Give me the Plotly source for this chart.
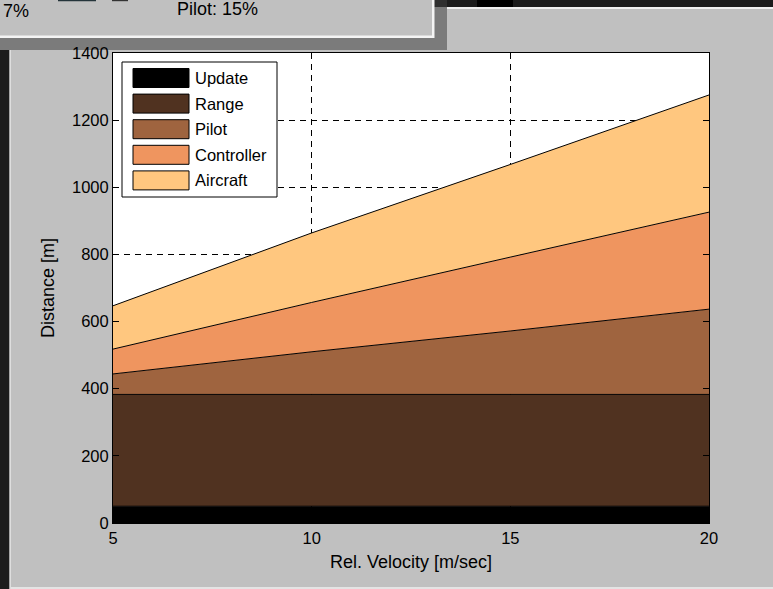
import plotly.graph_objects as go

# Stopping-distance budget versus relative velocity (stacked contributions)
velocity = [5, 10, 15, 20]
update_m = [50, 50, 50, 50]
range_m = [333, 333, 333, 333]
pilot_m = [61, 127, 189, 254]
controller_m = [74, 147, 220, 289]
aircraft_m = [129, 207, 276, 349]

series_names = ["Update", "Range", "Pilot", "Controller", "Aircraft"]
series_values = [update_m, range_m, pilot_m, controller_m, aircraft_m]
# copper colormap, 5 levels
series_colors = ["#000000", "#503220", "#9f643f", "#ef955f", "#ffc77f"]

x_ticks = [5, 10, 15, 20]
y_ticks = [0, 200, 400, 600, 800, 1000, 1200, 1400]

status_left = "7%"
status_pilot = "Pilot: 15%"

FONT = "Liberation Sans, Arial, sans-serif"
W, H = 773, 589
PL, PR, PT, PB = 113, 709, 53, 523


def fx(px):
    return (px - PL) / (PR - PL)


def fy(py):
    return (PB - py) / (PB - PT)


def rect(x0, y0, x1, y1, fill, line_color=None, line_width=0, layer="above"):
    return dict(
        type="rect", xref="paper", yref="paper",
        x0=fx(x0), x1=fx(x1), y0=fy(y1), y1=fy(y0),
        fillcolor=fill,
        line=dict(color=line_color or fill, width=line_width),
        layer=layer,
    )


fig = go.Figure()
for name, vals, col in zip(series_names, series_values, series_colors):
    fig.add_trace(go.Scatter(
        x=velocity, y=vals, name=name, mode="lines",
        stackgroup="one", fillcolor=col,
        line=dict(color="black", width=1),
        showlegend=False,
    ))

axis_common = dict(
    ticks="inside", ticklen=6, tickwidth=1, tickcolor="black",
    showline=True, linecolor="black", linewidth=1, mirror="ticks",
    showgrid=True, gridcolor="black", gridwidth=1, griddash="6px,5px",
    zeroline=False, automargin=False,
    tickfont=dict(family=FONT, size=16.5, color="black"),
)

fig.update_xaxes(range=[5, 20], tickvals=x_ticks, **axis_common)
fig.update_yaxes(range=[0, 1400], tickvals=y_ticks, **axis_common)

shapes = [
    # window frame around the figure
    rect(447, 0, 773, 7, "#1c1c1c"),
    rect(477, 0, 513, 7, "#000000"),
    rect(433, 0, 447, 7, "#4a4a4a"),
    rect(447, 7, 773, 9, "#f0f0f0"),
    rect(0, 50, 9.5, 589, "#1c1c1c"),
    rect(9.5, 50, 11, 589, "#dedede"),
    rect(11, 587, 773, 589, "#e4e4e4"),
    # overlapping status panel and its shadow
    rect(0, 0, 447, 50, "rgba(0,0,0,0.36)"),
    rect(0, 0, 434.5, 38, "#f4f4f4"),
    rect(0, 0, 432, 35.5, "#c0c0c0"),
    rect(58, 0, 96, 1.2, "#24343a"),
    rect(112, 0, 128, 1.2, "#333333"),
    # legend box
    rect(122, 62, 277, 197, "white", "black", 1),
]

annotations = [
    dict(text=status_left, xref="paper", yref="paper", x=fx(1), y=fy(11),
         xanchor="left", yanchor="middle", showarrow=False,
         font=dict(family=FONT, size=18, color="black")),
    dict(text=status_pilot, xref="paper", yref="paper", x=fx(175), y=fy(8.5),
         xanchor="left", yanchor="middle", showarrow=False,
         font=dict(family=FONT, size=18, color="black")),
    dict(text="Rel. Velocity [m/sec]", xref="paper", yref="paper",
         x=fx(411), y=fy(562), xanchor="center", yanchor="middle",
         showarrow=False, font=dict(family=FONT, size=18, color="black")),
    dict(text="Distance [m]", xref="paper", yref="paper",
         x=fx(48), y=fy(288), xanchor="center", yanchor="middle",
         textangle=-90, showarrow=False,
         font=dict(family=FONT, size=18, color="black")),
]

row0, pitch = 78, 25.6
for i, (name, col) in enumerate(zip(series_names, series_colors)):
    cy = row0 + i * pitch
    shapes.append(rect(133, cy - 9.5, 189, cy + 9.5, col, "black", 1))
    annotations.append(dict(
        text=name, xref="paper", yref="paper", x=fx(193), y=fy(cy),
        xanchor="left", yanchor="middle", showarrow=False,
        font=dict(family=FONT, size=16.5, color="black"),
    ))

fig.update_layout(
    width=W, height=H, autosize=False,
    margin=dict(l=PL, r=W - PR, t=PT, b=H - PB, pad=0),
    paper_bgcolor="#c0c0c0", plot_bgcolor="white",
    shapes=shapes, annotations=annotations,
    showlegend=False, hovermode=False,
)

fig.write_html("out.html")
